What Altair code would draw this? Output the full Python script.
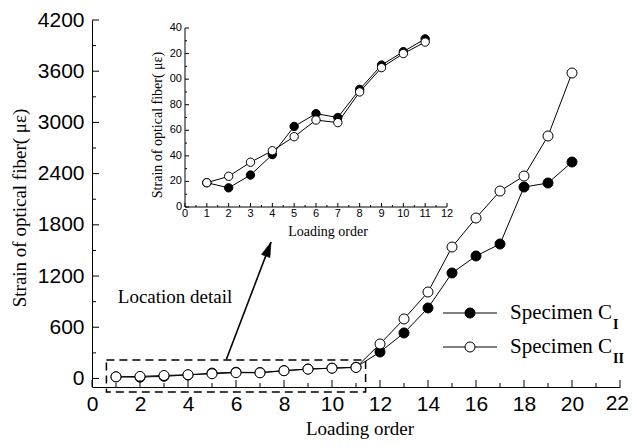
import altair as alt
import pandas as pd
import math

# ---------------- data ----------------
load_order = list(range(1, 21))
specimen_ci = [19, 15, 25, 41, 63, 73, 70, 92, 111, 121, 132,
               310, 533, 826, 1236, 1435, 1575, 2243, 2290, 2536]
specimen_cii = [19, 24, 35, 44, 55, 68, 66, 90, 109, 120, 129,
                404, 697, 1013, 1540, 1880, 2196, 2372, 2841, 3579]

inset_order = list(range(1, 12))
inset_ci = [19, 15, 25, 41, 63, 73, 70, 92, 111, 121.5, 131.5]
inset_cii = [19, 24, 35, 44, 55, 68, 66, 90, 109, 120, 129]

main_x_ticks = list(range(0, 23, 2))
main_x_minor = list(range(1, 22, 2))
main_y_ticks = list(range(0, 4201, 600))
main_y_minor = list(range(300, 4200, 600))

inset_x_ticks = list(range(0, 13))
inset_x_minor = [i + 0.5 for i in range(0, 12)]
inset_y_ticks = list(range(0, 141, 20))
inset_y_minor = list(range(10, 140, 20))
inset_y_tick_labels = ["0", "20", "40", "60", "80", "00", "20", "40"]

# detail box and arrow (data units of the main chart)
box_x = [0.6, 11.4]
box_y = [-160, 215]
arrow_start = [5.6, 225]
arrow_tip = [7.46, 1599]

SERIF = "'Liberation Serif', 'Times New Roman', 'DejaVu Serif', serif"
SANS = "'Liberation Sans', Arial, 'DejaVu Sans', sans-serif"
W, H = 528, 367

mx = alt.Scale(domain=[0, 22], nice=False, zero=False)
my = alt.Scale(domain=[-100, 4200], nice=False, zero=False)

xaxis = alt.Axis(values=main_x_ticks[:-1], ticks=False, labelFont=SANS, labelFontSize=21,
                 labelPadding=6, labelColor="black", domainColor="black", domainWidth=1,
                 grid=False, title=None, labelFlush=False, labelOverlap=False, format="d")
yaxis = alt.Axis(values=main_y_ticks, ticks=False, labelFont=SANS, labelFontSize=21,
                 labelPadding=8, labelColor="black", domainColor="black", domainWidth=1,
                 grid=False, title=None, labelFlush=False, labelOverlap=False, format="d")


def X(f):
    return alt.X(f, type="quantitative", scale=mx, axis=xaxis)


def Y(f):
    return alt.Y(f, type="quantitative", scale=my, axis=yaxis)


df = pd.DataFrame({
    "order": load_order * 2,
    "strain": specimen_ci + specimen_cii,
    "series": ["CI"] * 20 + ["CII"] * 20,
})

lines = alt.Chart(df).mark_line(color="black", strokeWidth=1).encode(
    x=X("order"), y=Y("strain"), detail="series:N")
pts_ci = alt.Chart(df).transform_filter(alt.datum.series == "CI").mark_point(
    shape="circle", filled=True, fill="black", stroke="black", strokeWidth=1,
    size=100, opacity=1).encode(x=X("order"), y=Y("strain"))
pts_cii = alt.Chart(df).transform_filter(alt.datum.series == "CII").mark_point(
    shape="circle", filled=True, fill="white", stroke="black", strokeWidth=1,
    size=100, opacity=1).encode(x=X("order"), y=Y("strain"))

box = alt.Chart(pd.DataFrame({"x1": [box_x[0]], "x2": [box_x[1]],
                              "y1": [box_y[0]], "y2": [box_y[1]]})).mark_rect(
    fillOpacity=0, stroke="black", strokeWidth=1.5, strokeDash=[8, 5]).encode(
    x=X("x1"), x2="x2", y=Y("y1"), y2="y2")

arrow_line = alt.Chart(pd.DataFrame({"x1": [arrow_start[0]], "x2": [arrow_tip[0]],
                                     "y1": [arrow_start[1]], "y2": [arrow_tip[1]]})).mark_rule(
    color="black", strokeWidth=1.6).encode(x=X("x1"), x2="x2", y=Y("y1"), y2="y2")

# arrow head
px_per_x = W / 22
px_per_y = H / 4300
dxp = (arrow_tip[0] - arrow_start[0]) * px_per_x
dyp = (arrow_tip[1] - arrow_start[1]) * px_per_y
L = math.hypot(dxp, dyp)
ang = math.degrees(math.atan2(dxp, dyp))
hc_x = arrow_tip[0] - 7.5 * dxp / L / px_per_x
hc_y = arrow_tip[1] - 7.5 * dyp / L / px_per_y
arrow_head = alt.Chart(pd.DataFrame({"x": [hc_x], "y": [hc_y]})).mark_point(
    shape="M0,-1L0.6,1L-0.6,1Z", filled=True, fill="black", stroke="black",
    strokeWidth=0.5, size=225, angle=ang, opacity=1).encode(x=X("x"), y=Y("y"))

loc_text = alt.Chart(pd.DataFrame({"x": [3.46], "y": [960], "t": ["Location detail"]})).mark_text(
    font=SERIF, fontSize=19, align="center", baseline="middle", color="black").encode(
    x=X("x"), y=Y("y"), text="t:N")

ytick_major = alt.Chart(pd.DataFrame({"v": main_y_ticks})).mark_rule(color="black").encode(
    y=Y("v"), x=alt.value(0), x2=alt.value(7))
ytick_minor = alt.Chart(pd.DataFrame({"v": main_y_minor})).mark_rule(color="black").encode(
    y=Y("v"), x=alt.value(0), x2=alt.value(4))
xtick_major = alt.Chart(pd.DataFrame({"v": main_x_ticks})).mark_rule(color="black").encode(
    x=X("v"), y=alt.value(H), y2=alt.value(H - 7))
xtick_minor = alt.Chart(pd.DataFrame({"v": main_x_minor})).mark_rule(color="black").encode(
    x=X("v"), y=alt.value(H), y2=alt.value(H - 4))

# last x label ("22") drawn as text so it stays inside the page
last_lab = alt.Chart(pd.DataFrame({"v": [main_x_ticks[-1]], "t": [str(main_x_ticks[-1])]})).mark_text(
    font=SANS, fontSize=21, align="right", baseline="top", color="black", dx=9).encode(
    x=X("v"), y=alt.value(H + 6), text="t:N")

titles = pd.DataFrame({"t": ["Loading order"]})
x_title = alt.Chart(titles).mark_text(font=SERIF, fontSize=19, align="center",
                                      baseline="alphabetic", color="black").encode(
    x=alt.value(268), y=alt.value(415), text="t:N")
y_title = alt.Chart(pd.DataFrame({"t": ["Strain of optical fiber( με)"]})).mark_text(
    font=SERIF, fontSize=19, align="center", baseline="middle", angle=270,
    color="black").encode(x=alt.value(-72), y=alt.value(188), text="t:N")

# legend
leg = pd.DataFrame({"t": ["Specimen C"]})
leg_items = []
for ry, fillc, sub in [(293, "black", "I"), (327, "white", "II")]:
    leg_items.append(alt.Chart(leg).mark_rule(color="black", strokeWidth=1).encode(
        x=alt.value(351), x2=alt.value(405), y=alt.value(ry)))
    leg_items.append(alt.Chart(leg).mark_point(shape="circle", filled=True, fill=fillc,
                                               stroke="black", strokeWidth=1, size=100,
                                               opacity=1).encode(
        x=alt.value(378), y=alt.value(ry)))
    leg_items.append(alt.Chart(leg).mark_text(font=SERIF, fontSize=21, align="left",
                                              baseline="middle", color="black").encode(
        x=alt.value(418), y=alt.value(ry), text="t:N"))
    leg_items.append(alt.Chart(pd.DataFrame({"t": [sub]})).mark_text(
        font=SERIF, fontSize=14, fontWeight="bold", align="left", baseline="middle",
        color="black").encode(x=alt.value(521), y=alt.value(ry + 12), text="t:N"))

main = alt.layer(box, lines, pts_ci, pts_cii, arrow_line, arrow_head, loc_text,
                 ytick_major, ytick_minor, xtick_major, xtick_minor, last_lab,
                 x_title, y_title, *leg_items)

# ---------------- inset ----------------
ix = alt.Scale(domain=[0, 12], range=[93, 355], nice=False, zero=False)
iy = alt.Scale(domain=[0, 140], range=[187, 8], nice=False, zero=False)


def IX(f):
    return alt.X(f, type="quantitative", scale=ix, axis=None)


def IY(f):
    return alt.Y(f, type="quantitative", scale=iy, axis=None)


idf = pd.DataFrame({
    "order": inset_order * 2,
    "strain": inset_ci + inset_cii,
    "series": ["CI"] * 11 + ["CII"] * 11,
})
ilines = alt.Chart(idf).mark_line(color="black", strokeWidth=1).encode(
    x=IX("order"), y=IY("strain"), detail="series:N")
ipts_ci = alt.Chart(idf).transform_filter(alt.datum.series == "CI").mark_point(
    shape="circle", filled=True, fill="black", stroke="black", strokeWidth=1,
    size=70, opacity=1).encode(x=IX("order"), y=IY("strain"))
ipts_cii = alt.Chart(idf).transform_filter(alt.datum.series == "CII").mark_point(
    shape="circle", filled=True, fill="white", stroke="black", strokeWidth=1,
    size=70, opacity=1).encode(x=IX("order"), y=IY("strain"))

iax = pd.DataFrame({"x1": [0, 0], "x2": [12, 0], "y1": [0, 0], "y2": [0, 140]})
iaxes = alt.Chart(iax).mark_rule(color="black", strokeWidth=1).encode(
    x=IX("x1"), x2="x2", y=IY("y1"), y2="y2")

iyt_major = alt.Chart(pd.DataFrame({"v": inset_y_ticks})).mark_rule(color="black").encode(
    y=IY("v"), x=alt.value(93), x2=alt.value(97))
iyt_minor = alt.Chart(pd.DataFrame({"v": inset_y_minor})).mark_rule(color="black").encode(
    y=IY("v"), x=alt.value(93), x2=alt.value(95))
ixt_major = alt.Chart(pd.DataFrame({"v": inset_x_ticks})).mark_rule(color="black").encode(
    x=IX("v"), y=alt.value(187), y2=alt.value(183))
ixt_minor = alt.Chart(pd.DataFrame({"v": inset_x_minor})).mark_rule(color="black").encode(
    x=IX("v"), y=alt.value(187), y2=alt.value(185))

ixl = alt.Chart(pd.DataFrame({"v": inset_x_ticks, "t": [str(v) for v in inset_x_ticks]})).mark_text(
    font=SANS, fontSize=11, align="center", baseline="middle", color="black").encode(
    x=IX("v"), y=alt.value(194), text="t:N")
iyl = alt.Chart(pd.DataFrame({"v": inset_y_ticks, "t": inset_y_tick_labels})).mark_text(
    font=SANS, fontSize=11, align="right", baseline="middle", color="black").encode(
    y=IY("v"), x=alt.value(90), text="t:N")

ix_title = alt.Chart(pd.DataFrame({"t": ["Loading order"]})).mark_text(
    font=SERIF, fontSize=14, align="center", baseline="middle", color="black").encode(
    x=alt.value(236), y=alt.value(212), text="t:N")
iy_title = alt.Chart(pd.DataFrame({"t": ["Strain of optical fiber( με)"]})).mark_text(
    font=SERIF, fontSize=14, align="center", baseline="middle", angle=270,
    color="black").encode(x=alt.value(66), y=alt.value(105), text="t:N")

inset = alt.layer(iaxes, iyt_major, iyt_minor, ixt_major, ixt_minor, ilines, ipts_ci,
                  ipts_cii, ixl, iyl, ix_title, iy_title)

chart = alt.layer(main, inset).resolve_scale(x="independent", y="independent").properties(
    width=W, height=H,
    padding={"left": 84, "top": 12, "right": 9, "bottom": 53},
    autosize=alt.AutoSizeParams(type="none"),
).configure_view(stroke=None)

chart.save("out.html", embed_options={"renderer": "svg", "actions": False})
